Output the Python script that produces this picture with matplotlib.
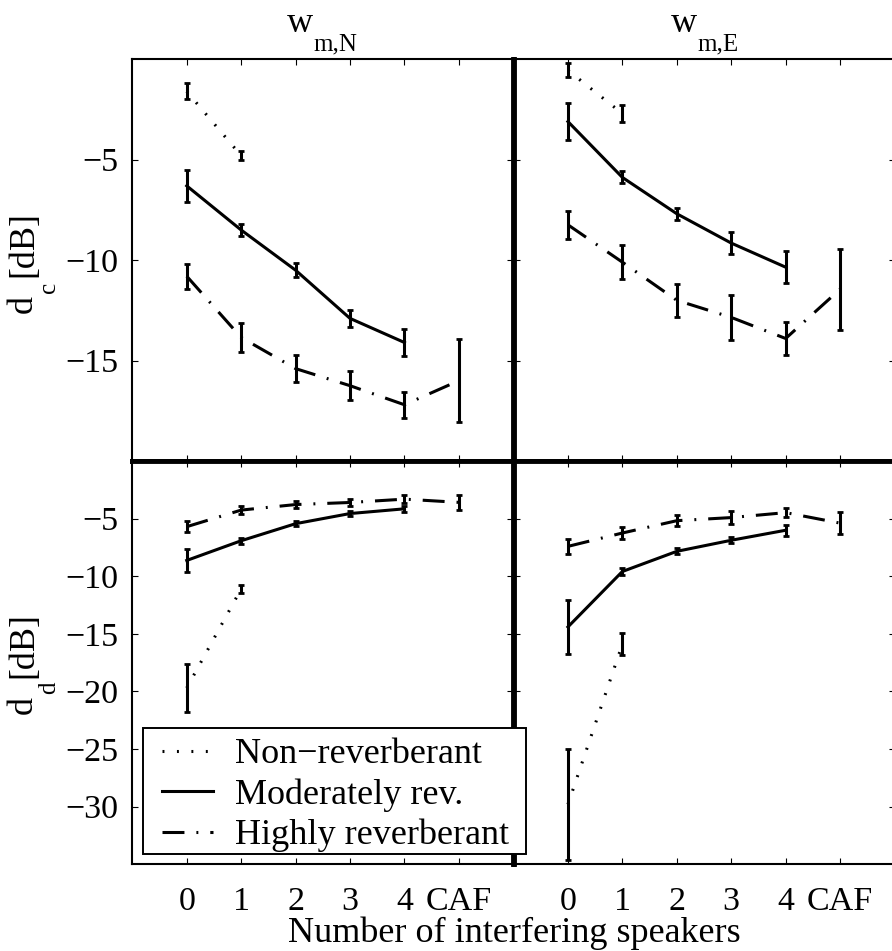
import matplotlib
matplotlib.use("Agg")
import matplotlib.pyplot as plt
from matplotlib.patches import Rectangle

plt.rcParams['font.family'] = ['Liberation Serif', 'DejaVu Serif']
plt.rcParams['font.size'] = 26
plt.rcParams['lines.scale_dashes'] = False

# x positions: number of interfering speakers, then CAF
x_pos = [0, 1, 2, 3, 4, 5]
x_labels = ['0', '1', '2', '3', '4', 'CAF']

# d_c, weighting w_m,N
dc_N_non = [-1.6, -4.8]
dc_N_non_err = [0.4, 0.22]
dc_N_mod = [-6.3, -8.5, -10.5, -12.9, -14.1]
dc_N_mod_err = [0.8, 0.3, 0.35, 0.42, 0.67]
dc_N_high = [-10.8, -13.85, -15.4, -16.25, -17.2, -16.0]
dc_N_high_err = [0.62, 0.72, 0.68, 0.72, 0.65, 2.05]

# d_c, weighting w_m,E
dc_E_non = [-0.55, -2.7]
dc_E_non_err = [0.35, 0.4]
dc_E_mod = [-3.1, -5.88, -7.69, -9.15, -10.35]
dc_E_mod_err = [0.9, 0.3, 0.3, 0.53, 0.79]
dc_E_high = [-8.24, -10.1, -12.0, -12.85, -13.9, -11.45]
dc_E_high_err = [0.71, 0.83, 0.83, 1.12, 0.8, 2.02]

# d_d, weighting w_m,N
dd_N_non = [-19.7, -11.1]
dd_N_non_err = [2.1, 0.36]
dd_N_mod = [-8.63, -6.92, -5.44, -4.56, -4.15]
dd_N_mod_err = [1.0, 0.25, 0.2, 0.2, 0.25]
dd_N_high = [-5.7, -4.26, -3.78, -3.6, -3.31, -3.59]
dd_N_high_err = [0.47, 0.33, 0.3, 0.32, 0.32, 0.68]

# d_d, weighting w_m,E
dd_E_non = [-29.8, -15.9]
dd_E_non_err = [4.8, 0.95]
dd_E_mod = [-14.4, -9.59, -7.84, -6.88, -6.01]
dd_E_mod_err = [2.37, 0.3, 0.25, 0.25, 0.46]
dd_E_high = [-7.41, -6.25, -5.18, -4.91, -4.48, -5.39]
dd_E_high_err = [0.67, 0.52, 0.48, 0.55, 0.4, 0.95]

labels = ['Non\u2212reverberant', 'Moderately rev.', 'Highly reverberant']
styles = [(0, (1.4, 9.0)), '-', (0, (15.8, 8.6, 1.4, 8.6))]

W, H = 892, 951
fig = plt.figure(figsize=(W / 100, H / 100), dpi=100)


def fx(px):
    return px / W


def fy(py):
    # pixel rows are counted from the top
    return (H - py) / H


ax_w = 381 / W
ax_tl = fig.add_axes([fx(132.3), fy(461), ax_w, 401.7 / H])
ax_tr = fig.add_axes([fx(513.5), fy(461), ax_w, 401.7 / H])
ax_bl = fig.add_axes([fx(132.3), fy(864.3), ax_w, 403.3 / H])
ax_br = fig.add_axes([fx(513.5), fy(864.3), ax_w, 403.3 / H])

panels = [
    (ax_tl, [dc_N_non, dc_N_mod, dc_N_high], [dc_N_non_err, dc_N_mod_err, dc_N_high_err]),
    (ax_tr, [dc_E_non, dc_E_mod, dc_E_high], [dc_E_non_err, dc_E_mod_err, dc_E_high_err]),
    (ax_bl, [dd_N_non, dd_N_mod, dd_N_high], [dd_N_non_err, dd_N_mod_err, dd_N_high_err]),
    (ax_br, [dd_E_non, dd_E_mod, dd_E_high], [dd_E_non_err, dd_E_mod_err, dd_E_high_err]),
]

handles = []
for ax, series, errs in panels:
    lines = []
    for vals, err, ls, lab in zip(series, errs, styles, labels):
        xx = x_pos[:len(vals)]
        ln, = ax.plot(xx, vals, color='k', linestyle=ls, linewidth=2.2, label=lab)
        ax.errorbar(xx, vals, yerr=err, fmt='none', ecolor='k',
                    elinewidth=2.2, capsize=2.5, capthick=2.0)
        lines.append(ln)
    if not handles:
        handles = lines
    ax.set_xlim(-1, 6)
    ax.set_xticks(x_pos)
    ax.tick_params(direction='in', length=4, width=0.8, top=True, right=True,
                   labelsize=24.5)
    ax.tick_params(axis='x', pad=16)
    ax.tick_params(axis='y', pad=10)
    for sp in ax.spines.values():
        sp.set_linewidth(1.5)

for ax in (ax_tl, ax_tr):
    ax.set_ylim(-20, 0)
    ax.set_yticks([-15, -10, -5])
    ax.set_xticklabels([])
    ax.spines['bottom'].set_linewidth(3.5)
for ax in (ax_bl, ax_br):
    ax.set_ylim(-35, 0)
    ax.set_yticks([-30, -25, -20, -15, -10, -5])
    ax.set_xticklabels(x_labels)
    ax.spines['top'].set_linewidth(3.5)
for ax in (ax_tr, ax_br):
    ax.set_yticklabels([])
    ax.spines['left'].set_linewidth(3.5)
for ax in (ax_tl, ax_bl):
    ax.spines['right'].set_linewidth(3.5)

# titles: w with a deep subscript
for x0, sub in ((287, 'm,N'), (671, 'm,E')):
    fig.text(fx(x0), fy(32), 'w', ha='left', va='baseline', fontsize=26)
    fig.text(fx(x0 + 26), fy(50), sub, ha='left', va='baseline', fontsize=18)

# y labels, rotated, subscript dropped below the baseline
for y0, sub in ((313, 'c'), (714, 'd')):
    kw = dict(rotation=90, rotation_mode='anchor', ha='left', va='baseline')
    fig.text(fx(32), fy(y0), 'd', fontsize=26, **kw)
    fig.text(fx(55), fy(y0 - 20), sub, fontsize=18, **kw)
    fig.text(fx(32), fy(y0 - 36), '[dB]', fontsize=26, **kw)

fig.text(fx(514), fy(942), 'Number of interfering speakers',
         ha='center', va='baseline', fontsize=26)

# legend box sits over both lower panels
frame = Rectangle((fx(142.7), fy(854)), fx(525.7) - fx(142.7), fy(728.3) - fy(854),
                  transform=fig.transFigure, facecolor='white', edgecolor='k',
                  linewidth=1.4, zorder=4)
fig.add_artist(frame)
leg = fig.legend(handles=handles, labels=labels, loc='upper left',
                 bbox_to_anchor=(fx(161.7), fy(738)), bbox_transform=fig.transFigure,
                 borderaxespad=0, borderpad=0, frameon=False, fontsize=26,
                 handlelength=1.41, handletextpad=0.61, labelspacing=0.194)
leg.set_zorder(5)

fig.savefig('out.png', dpi=100)
